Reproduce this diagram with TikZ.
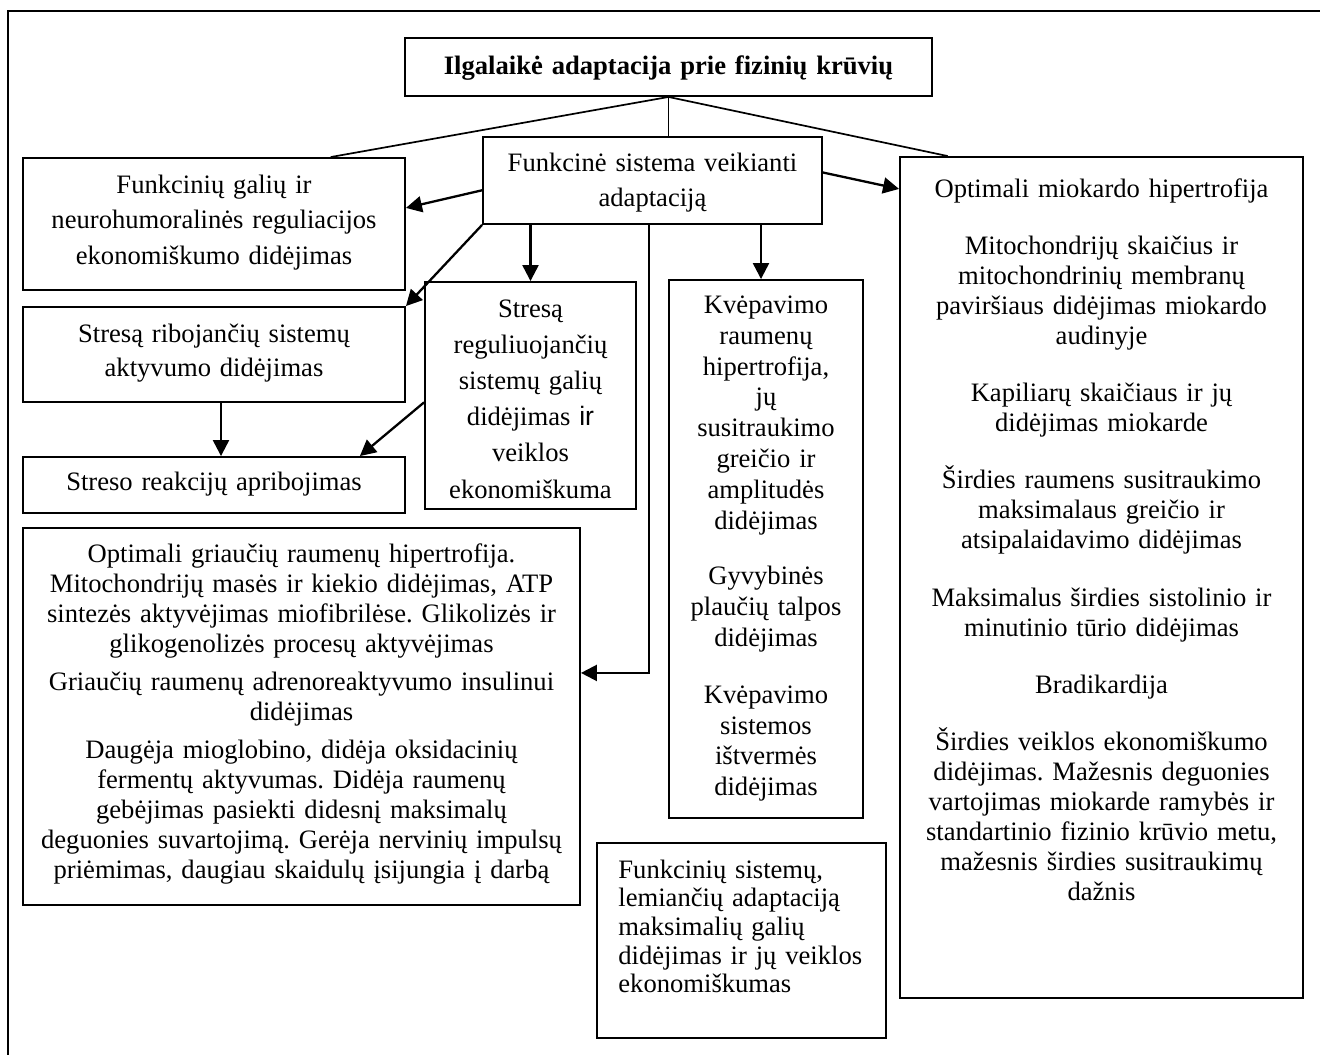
\documentclass[tikz,border=0pt]{standalone}
\usepackage{fontspec}
\setmainfont{Liberation Serif}
\newfontfamily\sansir{Liberation Sans}
\usetikzlibrary{arrows.meta,calc,fit}
\frenchspacing

\begin{document}
\begin{tikzpicture}[x=0.5pt,y=-0.5pt,
  boxframe/.style={draw, line width=0.95pt, inner sep=0pt},
  txtblock/.style 2 args={inner sep=0pt, anchor=base, align=center,
    text width=#1, font=\fontsize{13.3}{#2}\selectfont},
  link/.style={line width=0.85pt},
  arr/.style={line width=1.15pt, -{Triangle[length=8pt,width=8pt]}}]

\useasboundingbox (0,0) rectangle (1320,1055);

% outer frame
\draw[line width=1pt] (1320,11) -| (8,1055);

% boxes
\node[boxframe, fit={(405,38) (932,96)}] (title) {};
\node[boxframe, fit={(483,137) (822,224)}] (func) {};
\node[boxframe, fit={(23,158) (405,290)}] (box1) {};
\node[boxframe, fit={(23,307) (405,402)}] (box2) {};
\node[boxframe, fit={(23,457) (405,513)}] (box3) {};
\node[boxframe, fit={(425,282) (636,509)}] (reg) {};
\node[boxframe, fit={(669,280) (863,818)}] (kv) {};
\node[boxframe, fit={(23,528) (580,905)}] (big) {};
\node[boxframe, fit={(597,843) (886,1038)}] (sys) {};
\node[boxframe, fit={(900,157) (1303,998)}] (heart) {};

% texts
\node[txtblock={280pt}{15}] (title-t) at (668.5,74)
  {\textbf{Ilgalaikė adaptacija prie fizinių krūvių}};
\node[txtblock={180pt}{17.5}] (func-t) at (652.5,171)
  {Funkcinė sistema veikianti\\adaptaciją};
\node[txtblock={200pt}{17.75}] (box1-t) at (214,193)
  {Funkcinių galių ir\\neurohumoralinės reguliacijos\\ekonomiškumo didėjimas};
\node[txtblock={200pt}{17}] (box2-t) at (214,342)
  {Stresą ribojančių sistemų\\aktyvumo didėjimas};
\node[txtblock={200pt}{15}] (box3-t) at (214,490)
  {Streso reakcijų apribojimas};
\node[txtblock={115pt}{18.1}] (reg-t) at (530.5,317)
  {Stresą\\reguliuojančių\\sistemų galių\\didėjimas {\sansir ir}\\veiklos\\ekonomiškuma};
\node[txtblock={105pt}{15.4}] (kv-t) at (766,313.5)
  {Kvėpavimo\\raumenų\\hipertrofija,\\jų\\susitraukimo\\greičio ir\\amplitudės\\didėjimas\\[12.5pt]%
   Gyvybinės\\plaučių talpos\\didėjimas\\[13pt]%
   Kvėpavimo\\sistemos\\ištvermės\\didėjimas};
\node[txtblock={285pt}{15}] (big-t) at (301.5,562)
  {Optimali griaučių raumenų hipertrofija.\\Mitochondrijų masės ir kiekio didėjimas, ATP\\sintezės aktyvėjimas miofibrilėse. Glikolizės ir\\glikogenolizės procesų aktyvėjimas\\[4pt]%
   Griaučių raumenų adrenoreaktyvumo insulinui\\didėjimas\\[4pt]%
   Daugėja mioglobino, didėja oksidacinių\\fermentų aktyvumas. Didėja raumenų\\gebėjimas pasiekti didesnį maksimalų\\deguonies suvartojimą. Gerėja nervinių impulsų\\priėmimas, daugiau skaidulų įsijungia į darbą};
\node[txtblock={140pt}{14.35}, align=left, anchor=base west] (sys-t) at (618,878)
  {Funkcinių sistemų,\\lemiančių adaptaciją\\maksimalių galių\\didėjimas ir jų veiklos\\ekonomiškumas};
\node[txtblock={210pt}{15.05}] (heart-t) at (1101.5,197)
  {Optimali miokardo hipertrofija\\[13.5pt]%
   Mitochondrijų skaičius ir\\mitochondrinių membranų\\paviršiaus didėjimas miokardo\\audinyje\\[13.5pt]%
   Kapiliarų skaičiaus ir jų\\didėjimas miokarde\\[13.5pt]%
   Širdies raumens susitraukimo\\maksimalaus greičio ir\\atsipalaidavimo didėjimas\\[13.5pt]%
   Maksimalus širdies sistolinio ir\\minutinio tūrio didėjimas\\[13.5pt]%
   Bradikardija\\[13.5pt]%
   Širdies veiklos ekonomiškumo\\didėjimas. Mažesnis deguonies\\vartojimas miokarde ramybės ir\\standartinio fizinio krūvio metu,\\mažesnis širdies susitraukimų\\dažnis};

% lines from the title
\draw[link] (title.south) -- ($(box1.north west)!0.804!(box1.north east)$);
\draw[link] (title.south) -- (title.south |- func.north);
\draw[link] (title.south) -- ($(heart.north west)!0.12!(heart.north east)$);

% arrows from the functional system
\draw[arr] ($(func.north west)!0.61!(func.south west)$) -- ($(box1.north east)!0.38!(box1.south east)$);
\draw[arr] (func.south west) -- (box2.north east);
\draw[arr] (func.south -| reg.north) -- (reg.north);
\coordinate (kvin) at ($(kv.north)+(-5,0)$);
\draw[arr] (func.south -| kvin) -- (kvin);
\draw[arr] ($(func.north east)!0.41!(func.south east)$) -- ($(heart.north west)!0.039!(heart.south west)$);
\coordinate (elbow) at ($(func.south)+(-3.5,0)$);
\draw[arr] (elbow) |- ($(big.north east)!0.385!(big.south east)$);

% arrows into the stress-reaction box
\coordinate (b2out) at ($(box2.south)+(7,0)$);
\draw[arr] (b2out) -- (b2out |- box3.north);
\draw[arr] ($(reg.north west)!0.53!(reg.south west)$) -- ($(box3.north west)!0.88!(box3.north east)$);

\end{tikzpicture}
\end{document}
